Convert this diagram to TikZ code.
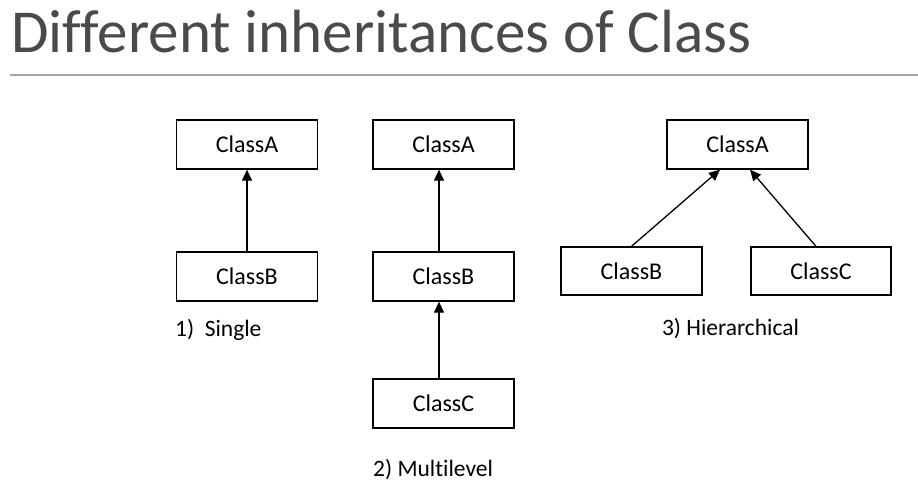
\documentclass[tikz,border=0pt]{standalone}
\usepackage{fontspec}
\setmainfont[Ligatures=NoCommon]{Carlito}
\usetikzlibrary{arrows.meta,calc}
\definecolor{titlegray}{HTML}{4A4A4A}
\definecolor{rulegray}{HTML}{A6A6A6}
\begin{document}
\begin{tikzpicture}[x=1pt,y=-1pt,
  cls/.style={draw=black,line width=1.3pt,minimum width=141pt,minimum height=49pt,inner sep=0pt,
    font=\fontsize{24}{28}\selectfont},
  lbl/.style={inner sep=0pt,font=\fontsize{23.5}{28}\selectfont},
  inh/.style={draw=black,line width=1.3pt,-{Triangle[width=10pt,length=11pt]}}]
\useasboundingbox (0,0) rectangle (918,490);
\fill[white] (0,0) rectangle (918,490);
% title
\node[anchor=base west,inner sep=0pt,text=titlegray,font=\fontsize{61}{70}\selectfont] (title) at (11,52) {Different inheritances of Class};
\coordinate (rl) at (10,75);
\coordinate (rr) at (918,75);
\draw[rulegray,line width=1.5pt] (rl) -- (rr);
% single
\node[cls] (sa) at (247,144.5) {ClassA};
\node[cls] (sb) at (247,276.5) {ClassB};
\draw[inh] (sb.north) -- (sa.south);
\node[lbl,anchor=base west] (l1) at (175,336) {1)\hspace{0.45em}Single};
% multilevel
\node[cls] (ma) at (443.5,144.5) {ClassA};
\node[cls] (mb) at (443.5,276.5) {ClassB};
\node[cls] (mc) at (443.5,403.5) {ClassC};
\draw[inh] ([xshift=-4.5pt]mb.north) -- ([xshift=-4.5pt]ma.south);
\draw[inh] ([xshift=-4.5pt]mc.north) -- ([xshift=-4.5pt]mb.south);
\node[lbl,anchor=base west] (l2) at (373,476) {2) Multilevel};
% hierarchical
\node[cls] (ha) at (737.5,144.5) {ClassA};
\node[cls,minimum height=48pt] (hb) at (631.5,271) {ClassB};
\node[cls,minimum height=48pt,minimum width=140pt] (hc) at (821,271) {ClassC};
\draw[inh] (hb.north) -- ([xshift=-17.5pt]ha.south);
\draw[inh] ([xshift=-5pt]hc.north) -- ([xshift=12.5pt]ha.south);
\node[lbl,anchor=base] (l3) at (730.5,335) {3) Hierarchical};
\end{tikzpicture}
\end{document}
